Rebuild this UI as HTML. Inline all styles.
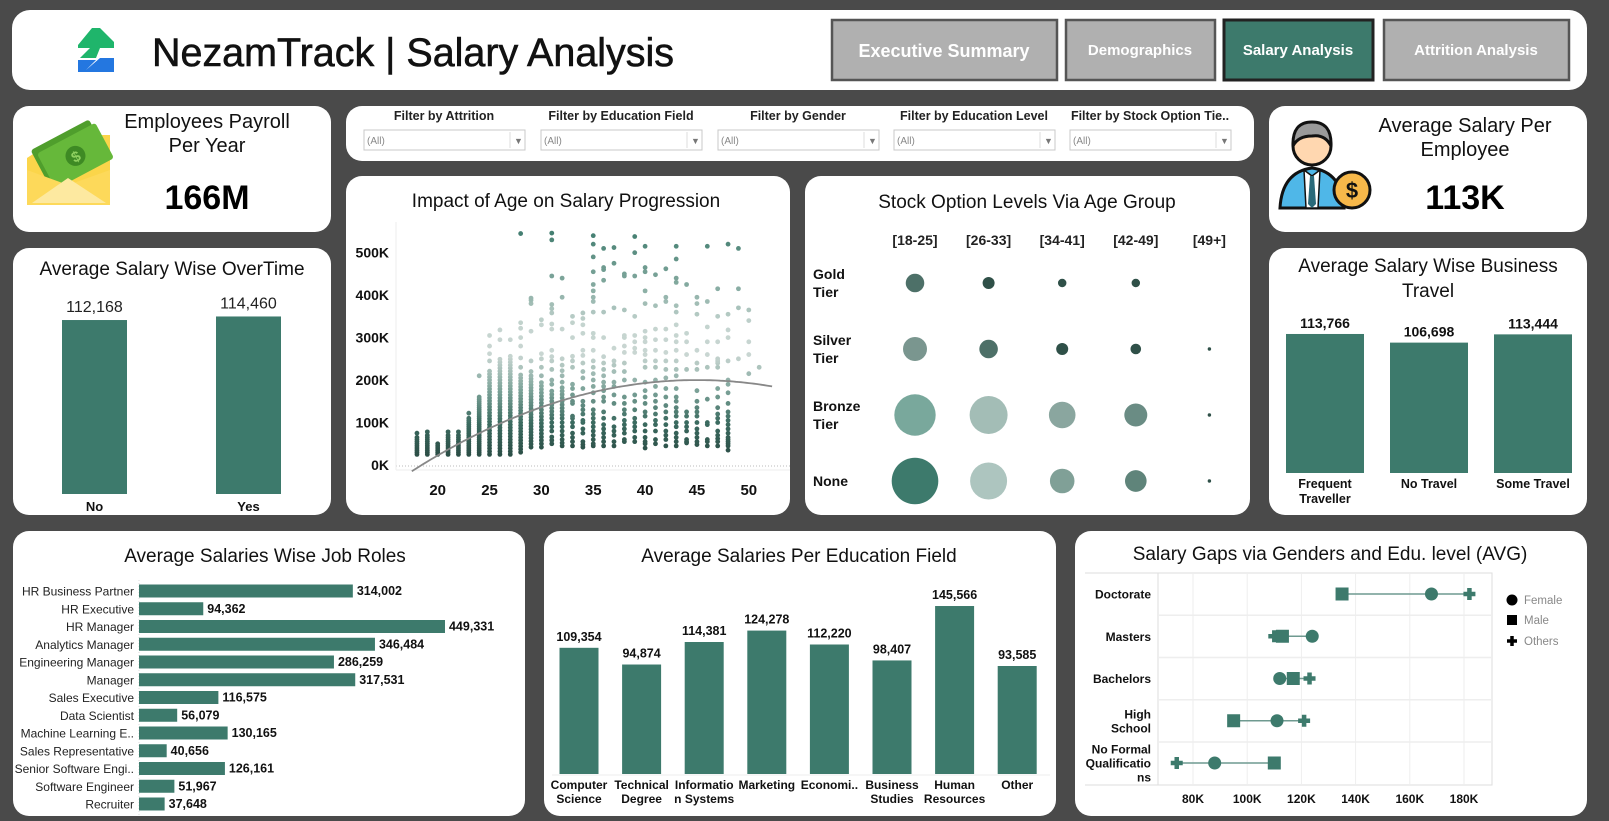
<!DOCTYPE html>
<html><head><meta charset="utf-8">
<style>
html,body{margin:0;padding:0;background:#4a4a4a;}
svg{display:block;font-family:"Liberation Sans",Arial,sans-serif;}
.t{font-size:19px;fill:#111;text-anchor:middle;}
.b{font-weight:bold;}
</style></head>
<body>
<svg id="dash" width="1609" height="821" viewBox="0 0 1609 821" xmlns="http://www.w3.org/2000/svg">
<rect x="0" y="0" width="1609" height="821" fill="#4a4a4a"/>
<!-- header -->
<rect x="12" y="10" width="1575" height="80" rx="18" fill="#fff"/>
<g>
  <polygon points="78,45 92,28 100,28 114,42 114,48 100,48 96,58 80,58 90,48 78,48" fill="#1fb56b"/>
  <polygon points="78,72 78,60 96,60 86,70 100,58 114,58 114,72" fill="#2477e0"/>
</g>
<text x="152" y="66" font-size="40" fill="#111" stroke="#111" stroke-width="0.6" textLength="522" lengthAdjust="spacingAndGlyphs">NezamTrack | Salary Analysis</text>
<g><rect x="832" y="20" width="225" height="60" fill="#b0b0b0" stroke="#555" stroke-width="2.5"/><text x="944" y="57" font-size="18" font-weight="bold" fill="#fff" text-anchor="middle">Executive Summary</text></g>
<g><rect x="1066" y="20" width="149" height="60" fill="#b0b0b0" stroke="#555" stroke-width="2.5"/><text x="1140" y="55" font-size="15" font-weight="bold" fill="#fff" text-anchor="middle">Demographics</text></g>
<g><rect x="1224" y="20" width="149" height="60" fill="#3d7a6c" stroke="#222" stroke-width="3"/><text x="1298" y="55" font-size="15" font-weight="bold" fill="#fff" text-anchor="middle">Salary Analysis</text></g>
<g><rect x="1384" y="20" width="185" height="60" fill="#b0b0b0" stroke="#555" stroke-width="2.5"/><text x="1476" y="55" font-size="15" font-weight="bold" fill="#fff" text-anchor="middle">Attrition Analysis</text></g>

<!-- cards -->
<rect x="13" y="106" width="318" height="126" rx="16" fill="#fff"/>
<rect x="346" y="106" width="908" height="55" rx="16" fill="#fff"/>
<rect x="1269" y="106" width="318" height="126" rx="16" fill="#fff"/>
<rect x="346" y="176" width="444" height="339" rx="16" fill="#fff"/>
<rect x="805" y="176" width="445" height="339" rx="16" fill="#fff"/>
<rect x="13" y="248" width="318" height="267" rx="16" fill="#fff"/>
<rect x="1269" y="248" width="318" height="267" rx="16" fill="#fff"/>
<rect x="13" y="531" width="512" height="285" rx="16" fill="#fff"/>
<rect x="544" y="531" width="512" height="285" rx="16" fill="#fff"/>
<rect x="1075" y="531" width="512" height="285" rx="16" fill="#fff"/>

<!-- KPI payroll -->
<g>
  <polygon points="27,158 62,135 110,135 110,205 27,205" fill="#fbd54a"/>
  <g transform="rotate(-28 72 160)"><rect x="40" y="132" width="66" height="40" rx="3" fill="#4f9e2c"/><rect x="44" y="138" width="66" height="40" rx="3" fill="#66b83a"/><circle cx="77" cy="158" r="10" fill="#3e8a24"/><text x="77" y="164" font-size="15" font-weight="bold" fill="#8fd060" text-anchor="middle">$</text></g>
  <polygon points="27,170 68,185 110,170 110,205 27,205" fill="#fdd95a"/>
  <polygon points="32,203 68,178 106,203" fill="#fde9a0"/>
</g>
<text x="207" y="128" font-size="20" fill="#111" text-anchor="middle">Employees Payroll</text>
<text x="207" y="152" font-size="20" fill="#111" text-anchor="middle">Per Year</text>
<text x="207" y="209" font-size="34" font-weight="bold" fill="#000" text-anchor="middle">166M</text>

<!-- KPI avg salary -->
<g>
  <path d="M1280,208 Q1282,172 1312,168 Q1342,172 1344,208 Z" fill="#4fb7e8" stroke="#111" stroke-width="3"/>
  <polygon points="1304,170 1312,176 1320,170 1318,208 1306,208" fill="#fff" stroke="#111" stroke-width="1.5"/>
  <polygon points="1310,176 1314,176 1316,204 1312,208 1308,204" fill="#2a6a7a"/>
  <circle cx="1312" cy="146" r="19" fill="#ffd7b0" stroke="#111" stroke-width="3"/>
  <path d="M1293,146 Q1292,122 1312,122 Q1332,122 1331,146 Q1325,134 1312,136 Q1298,136 1293,146 Z" fill="#9a9a9a" stroke="#111" stroke-width="3"/>
  <circle cx="1352" cy="190" r="18" fill="#f7b84a" stroke="#111" stroke-width="3"/>
  <text x="1352" y="198" font-size="22" font-weight="bold" fill="#111" text-anchor="middle">$</text>
</g>
<text x="1465" y="132" font-size="20" fill="#111" text-anchor="middle">Average Salary Per</text>
<text x="1465" y="156" font-size="20" fill="#111" text-anchor="middle">Employee</text>
<text x="1465" y="209" font-size="34" font-weight="bold" fill="#000" text-anchor="middle">113K</text>

<g id="filters"></g>

<!-- titles -->
<text class="t" x="566" y="207">Impact of Age on Salary Progression</text>
<text class="t" x="1027" y="208">Stock Option Levels Via Age Group</text>
<text class="t" x="172" y="275">Average Salary Wise OverTime</text>
<text class="t" x="1428" y="272">Average Salary Wise Business</text>
<text class="t" x="1428" y="297">Travel</text>
<text class="t" x="265" y="562">Average Salaries Wise Job Roles</text>
<text class="t" x="799" y="562">Average Salaries Per Education Field</text>
<text class="t" x="1330" y="560">Salary Gaps via Genders and Edu. level (AVG)</text>

<g id="scatter"></g><g id="bubbles"></g><g id="overtime"></g><g id="travel"></g><g id="jobs"></g><g id="edu"></g><g id="gaps"></g>
</svg>
<script>
// ---------- data ----------
const filterLabels = ["Filter by Attrition","Filter by Education Field","Filter by Gender","Filter by Education Level","Filter by Stock Option Tie.."];

const scatterAges = [18,19,20,21,22,23,24,25,26,27,28,29,30,31,32,33,34,35,36,37,38,39,40,41,42,43,44,45,46,47,48,49,50,51];
const scatterSalaries = [
[25,30,35,40,45,50,55,60,65,75],
[25,30,35,40,45,50,55,60,65,70,78],
[25,30,35,40,45,50],
[25,30,35,40,45,50,55,60,65,70,78],
[25,30,35,40,45,50,55,60,65,70,78],
[25,30,35,40,45,50,55,60,65,70,75,80,85,90,95,100,105,110,122],
[25,30,35,40,45,50,55,60,65,70,75,80,85,90,95,100,105,110,115,120,125,130,135,140,145,150,155,160,210],
[25,32,39,46,53,60,67,74,81,88,95,102,109,116,123,130,137,144,151,158,165,172,179,186,193,200,207,214,221,245,262,280,305],
[25,32,39,46,53,60,67,74,81,88,95,102,109,116,123,130,137,144,151,158,165,172,179,186,193,200,207,214,221,228,235,242,249,295,318],
[25,32,39,46,53,60,67,74,81,88,95,102,109,116,123,130,137,144,151,158,165,172,179,186,193,200,207,214,221,228,235,242,249,256,295],
[30,37,44,51,58,65,72,79,86,93,100,107,114,121,128,135,142,149,156,163,170,177,184,191,198,205,212,230,252,280,300,322,335,545],
[42,49,56,63,70,77,84,91,98,105,112,119,126,133,140,147,154,161,168,175,182,189,196,203,210,220,245,315,380,388,393],
[42,50,58,66,74,82,90,98,106,114,122,130,138,146,154,162,170,178,186,194,210,230,250,262,330,342],
[50,58,66,80,90,100,110,118,126,134,142,150,158,166,174,190,200,225,245,255,270,320,332,358,368,378,445,530,546],
[45,52,60,70,80,90,100,110,118,126,134,142,150,158,166,174,182,195,210,222,235,250,320,395,440],
[45,55,65,75,90,100,110,115,145,150,165,180,190,230,245,256,300,335,350],
[42,48,55,75,85,100,105,120,130,140,150,180,205,220,240,258,270,310,330,345,358],
[45,50,60,70,80,90,100,110,120,130,150,170,185,200,215,230,245,270,300,310,360,385,395,410,425,455,490,520,540],
[45,55,65,75,85,95,110,125,150,160,175,185,195,210,225,240,255,300,360,435,460,465,510],
[45,55,70,80,90,110,145,165,185,195,220,235,245,275,370,475,512],
[55,60,75,85,95,105,120,130,145,160,200,220,240,265,280,300,305,365,445,450],
[55,65,80,90,100,110,130,150,165,200,265,275,290,305,350,445,500,538],
[40,50,55,65,80,95,115,125,145,160,175,195,230,245,260,270,290,300,315,380,410,455,465,515],
[50,60,80,95,105,120,135,150,165,185,200,230,245,270,295,320,375,448],
[45,60,70,80,95,110,125,140,160,180,205,225,245,265,295,320,385,395,462],
[45,55,65,75,90,100,115,125,135,150,160,180,210,225,245,270,290,305,330,360,375,430,440,485,515],
[52,55,60,80,90,100,115,125,225,260,290,310,425],
[48,55,65,75,85,100,115,125,135,150,175,225,240,270,355,380,395],
[45,55,60,95,100,155,230,260,290,325,385,515],
[45,55,62,70,80,100,110,120,135,160,180,230,240,245,250,290,350,415],
[35,45,50,55,60,65,75,85,95,105,115,125,145,170,190,200,245,300,318,355,520],
[250,370,415,510],
[215,260,290,340,365],
[230]
];
const scatterYTicks = [0,100,200,300,400,500];
const scatterXTicks = [20,25,30,35,40,45,50];
const trendPeak = 200, trendPeakAge = 45, trendCurv = 0.284;

const ageGroups = ["[18-25]","[26-33]","[34-41]","[42-49]","[49+]"];
const stockTiers = ["Gold|Tier","Silver|Tier","Bronze|Tier","None"];
const stockCounts = [
 [86,36,18,18,0],
 [144,86,36,28,3],
 [428,361,177,132,3],
 [543,342,151,117,3]
];
const stockShades = [
 ["#4d7068","#2f5048","#2f5048","#2f5048","#2f5048"],
 ["#7a968f","#4d7068","#2f5048","#2f5048","#2f5048"],
 ["#79a89c","#a3bdb6","#8aa69f","#6a8c84","#2f5048"],
 ["#3d7a6c","#adc5bf","#80a097","#5f847a","#2f5048"]
];

const overtimeCats = ["No","Yes"];
const overtimeVals = [112168,114460];

const travelCats = ["Frequent|Traveller","No Travel","Some Travel"];
const travelVals = [113766,106698,113444];

const jobRoles = ["HR Business Partner","HR Executive","HR Manager","Analytics Manager","Engineering Manager","Manager","Sales Executive","Data Scientist","Machine Learning E..","Sales Representative","Senior Software Engi..","Software Engineer","Recruiter"];
const jobVals = [314002,94362,449331,346484,286259,317531,116575,56079,130165,40656,126161,51967,37648];

const eduFields = ["Computer|Science","Technical|Degree","Informatio|n Systems","Marketing","Economi..","Business|Studies","Human|Resources","Other"];
const eduVals = [109354,94874,114381,124278,112220,98407,145566,93585];

const eduLevels = ["Doctorate","Masters","Bachelors","High|School","No Formal|Qualificatio|ns"];
const femaleAvg = [168,124,112,111,88];
const maleAvg = [135,113,117,95,110];
const othersAvg = [182,110,123,121,74];
const gapTicks = [80,100,120,140,160,180];

// ---------- helpers ----------
const NS="http://www.w3.org/2000/svg";
function mk(parent,tag,attrs,txt){const e=document.createElementNS(NS,tag);for(const k in attrs)e.setAttribute(k,attrs[k]);if(txt!==undefined)e.textContent=txt;parent.appendChild(e);return e;}
function fmt(v){return v.toLocaleString("en-US");}
const TEAL="#3d7a6c";

// ---------- filters ----------
(function(){
 const g=document.getElementById("filters");
 const xs=[364,541,718,894,1070];
 filterLabels.forEach((l,i)=>{
  const t=mk(g,"text",{x:xs[i]+80,y:120,"font-size":12.5,"font-weight":"bold",fill:"#222","text-anchor":"middle"},l);
  
  
  const d=mk(g,"g",{});
  
  
  mk(d,"rect",{x:xs[i],y:130,width:161,height:20,fill:"#fff",stroke:"#c8c8c8"});
  mk(d,"line",{x1:xs[i]+146,y1:132,x2:xs[i]+146,y2:148,stroke:"#ddd"});
  mk(d,"text",{x:xs[i]+3,y:144,"font-size":10,fill:"#888"},"(All)");
  mk(d,"text",{x:xs[i]+150,y:144,"font-size":9,fill:"#777"},"▼");
 });
})();

// ---------- scatter ----------
(function(){
 const g=document.getElementById("scatter");
 const X=a=>437.7+(a-20)*10.37, Y=v=>465-v*0.4247;
 mk(g,"line",{x1:396,y1:466,x2:790,y2:466,stroke:"#bbb","stroke-dasharray":"1,2"});
 mk(g,"line",{x1:396,y1:222,x2:396,y2:470,stroke:"#eee"});
 mk(g,"line",{x1:396,y1:470,x2:790,y2:470,stroke:"#eee"});
 scatterYTicks.forEach(v=>{const t=mk(g,"text",{x:389,y:Y(v)+5,"font-size":14,"font-weight":"bold","text-anchor":"end",fill:"#111"},v+"K");
  
  });
 scatterXTicks.forEach(a=>{const t=mk(g,"text",{x:X(a),y:495,"font-size":15,"font-weight":"bold","text-anchor":"middle",fill:"#111"},a);
  
  });
 const stops=[[0,[39,69,62]],[100,[59,107,96]],[180,[127,165,155]],[260,[201,214,210]],[330,[196,212,207]],[420,[134,171,161]],[560,[61,122,108]]];
 function col(v){for(let i=0;i<stops.length-1;i++){const a=stops[i],b=stops[i+1];if(v<=b[0]){const t=Math.max(0,(v-a[0])/(b[0]-a[0]));return "rgb("+a[1].map((c,k)=>Math.round(c+(b[1][k]-c)*t)).join(",")+")";}}return "rgb(61,122,108)";}
 scatterAges.forEach((a,i)=>{scatterSalaries[i].forEach(v=>{
  const c=mk(g,"circle",{cx:X(a),cy:Y(v),r:2.4,fill:col(v)});
  
  
 });});
 let d="";for(let a=17.5;a<=52.4;a+=0.25){const v=trendPeak-trendCurv*(a-trendPeakAge)*(a-trendPeakAge);d+=(d?"L":"M")+X(a).toFixed(1)+","+Y(v).toFixed(1);}
 const p=mk(g,"path",{d:d,fill:"none",stroke:"#888","stroke-width":1.8});
 
 
})();

// ---------- bubbles ----------
(function(){
 const g=document.getElementById("bubbles");
 const cx=i=>915+i*73.6, cy=j=>283+j*66;
 ageGroups.forEach((a,i)=>{const t=mk(g,"text",{x:cx(i),y:245,"font-size":14,"font-weight":"bold","text-anchor":"middle",fill:"#222"},a);
  
  });
 stockTiers.forEach((s,j)=>{const parts=s.split("|");parts.forEach((p,k)=>{const t=mk(g,"text",{x:813,y:cy(j)+5+(parts.length>1?(k-0.5)*18:0),"font-size":14,"font-weight":"bold",fill:"#111"},p);
  
  });
  stockCounts[j].forEach((v,i)=>{if(v<=0)return;const c=mk(g,"circle",{cx:cx(i),cy:cy(j),r:Math.sqrt(v),fill:stockShades[j][i]});
   
   });
 });
})();

// ---------- overtime ----------
(function(){
 const g=document.getElementById("overtime");
 const xs=[62,216];
 overtimeCats.forEach((c,i)=>{const h=overtimeVals[i]/1000*1.551;
  const r=mk(g,"rect",{x:xs[i],y:494-h,width:65,height:h,fill:TEAL});
  
  
  const t=mk(g,"text",{x:xs[i]+32.5,y:494-h-8,"font-size":16,"text-anchor":"middle",fill:"#222"},fmt(overtimeVals[i]));
  
  
  const l=mk(g,"text",{x:xs[i]+32.5,y:511,"font-size":13,"font-weight":"bold","text-anchor":"middle",fill:"#111"},c);
  
  
 });
})();

// ---------- travel ----------
(function(){
 const g=document.getElementById("travel");
 const xs=[1286,1390,1494];
 travelCats.forEach((c,i)=>{const h=travelVals[i]/1000*1.222;
  const r=mk(g,"rect",{x:xs[i],y:473-h,width:78,height:h,fill:TEAL});
  
  
  const t=mk(g,"text",{x:xs[i]+39,y:473-h-6,"font-size":14,"font-weight":"bold","text-anchor":"middle",fill:"#111"},fmt(travelVals[i]));
  
  
  c.split("|").forEach((p,k)=>{const l=mk(g,"text",{x:xs[i]+39,y:488+k*15,"font-size":12.5,"font-weight":"bold","text-anchor":"middle",fill:"#111"},p);
   
   });
 });
})();

// ---------- job roles ----------
(function(){
 const g=document.getElementById("jobs");
 mk(g,"line",{x1:139,y1:580,x2:139,y2:815,stroke:"#ddd","stroke-dasharray":"1,2"});
 jobRoles.forEach((r,i)=>{const cy=591+i*17.75, w=jobVals[i]/1000*0.681;
  const b=mk(g,"rect",{x:139,y:cy-6.5,width:w,height:13,fill:TEAL});
  
  
  const l=mk(g,"text",{x:134,y:cy+4.5,"font-size":12,"text-anchor":"end",fill:"#222"},r);
  
  
  const v=mk(g,"text",{x:139+w+4,y:cy+4,"font-size":12.5,"font-weight":"bold",fill:"#111"},fmt(jobVals[i]));
  
  
 });
})();

// ---------- education field ----------
(function(){
 const g=document.getElementById("edu");
 mk(g,"line",{x1:552,y1:775,x2:1050,y2:775,stroke:"#eee"});
 eduFields.forEach((f,i)=>{const cx=579+i*62.6, h=eduVals[i]/1000*1.154;
  const b=mk(g,"rect",{x:cx-19.5,y:774-h,width:39,height:h,fill:TEAL});
  
  
  const v=mk(g,"text",{x:cx,y:774-h-7,"font-size":12.5,"font-weight":"bold","text-anchor":"middle",fill:"#111"},fmt(eduVals[i]));
  
  
  f.split("|").forEach((p,k)=>{const l=mk(g,"text",{x:cx,y:789+k*14,"font-size":12,"font-weight":"bold","text-anchor":"middle",fill:"#111"},p);
   
   });
 });
})();

// ---------- gender gaps ----------
(function(){
 const g=document.getElementById("gaps");
 const X=v=>1193+(v-80)*2.71, rowY=j=>594+j*42.25;
 mk(g,"rect",{x:1158,y:573,width:334,height:212,fill:"none",stroke:"#ddd"});
 mk(g,"line",{x1:1085,y1:573,x2:1158,y2:573,stroke:"#ddd"});
 mk(g,"line",{x1:1085,y1:785,x2:1158,y2:785,stroke:"#ddd"});
 gapTicks.forEach(v=>{mk(g,"line",{x1:X(v),y1:573,x2:X(v),y2:785,stroke:"#eee"});
  const t=mk(g,"text",{x:X(v),y:803,"font-size":12,"font-weight":"bold","text-anchor":"middle",fill:"#111"},v+"K");
  
  });
 for(let j=1;j<eduLevels.length;j++)mk(g,"line",{x1:1158,y1:rowY(j)-21,x2:1492,y2:rowY(j)-21,stroke:"#eee","stroke-width":1.5});
 eduLevels.forEach((e,j)=>{const y=rowY(j);const parts=e.split("|");
  parts.forEach((p,k)=>{const t=mk(g,"text",{x:1151,y:y+4.5+(k-(parts.length-1)/2)*14,"font-size":12,"font-weight":"bold","text-anchor":"end",fill:"#111"},p);
   
   });
  const vals=[femaleAvg[j],maleAvg[j],othersAvg[j]];
  const ln=mk(g,"line",{x1:X(Math.min(...vals)),y1:y,x2:X(Math.max(...vals)),y2:y,stroke:"#6f9a90","stroke-width":1.5});
  
  
  const px=X(othersAvg[j]);
  const pl=mk(g,"path",{d:`M${px-6},${y}H${px+6}M${px},${y-6}V${y+6}`,stroke:TEAL,"stroke-width":4.5,fill:"none"});
  
  
  const mx=X(maleAvg[j]);
  const sq=mk(g,"rect",{x:mx-6.5,y:y-6.5,width:13,height:13,fill:TEAL});
  
  
  const ci=mk(g,"circle",{cx:X(femaleAvg[j]),cy:y,r:6.5,fill:TEAL});
  
  
 });
 const lg=mk(g,"g",{});
 
 
 mk(lg,"circle",{cx:1512,cy:600,r:5.5,fill:"#000"});
 mk(lg,"text",{x:1524,y:604,"font-size":11.5,fill:"#888"},"Female");
 mk(lg,"rect",{x:1507,y:615,width:10,height:10,fill:"#000"});
 mk(lg,"text",{x:1524,y:624,"font-size":11.5,fill:"#888"},"Male");
 mk(lg,"path",{d:"M1507,641H1517M1512,636V646",stroke:"#000","stroke-width":3.5});
 mk(lg,"text",{x:1524,y:645,"font-size":11.5,fill:"#888"},"Others");
})();
</script>
</body></html>
